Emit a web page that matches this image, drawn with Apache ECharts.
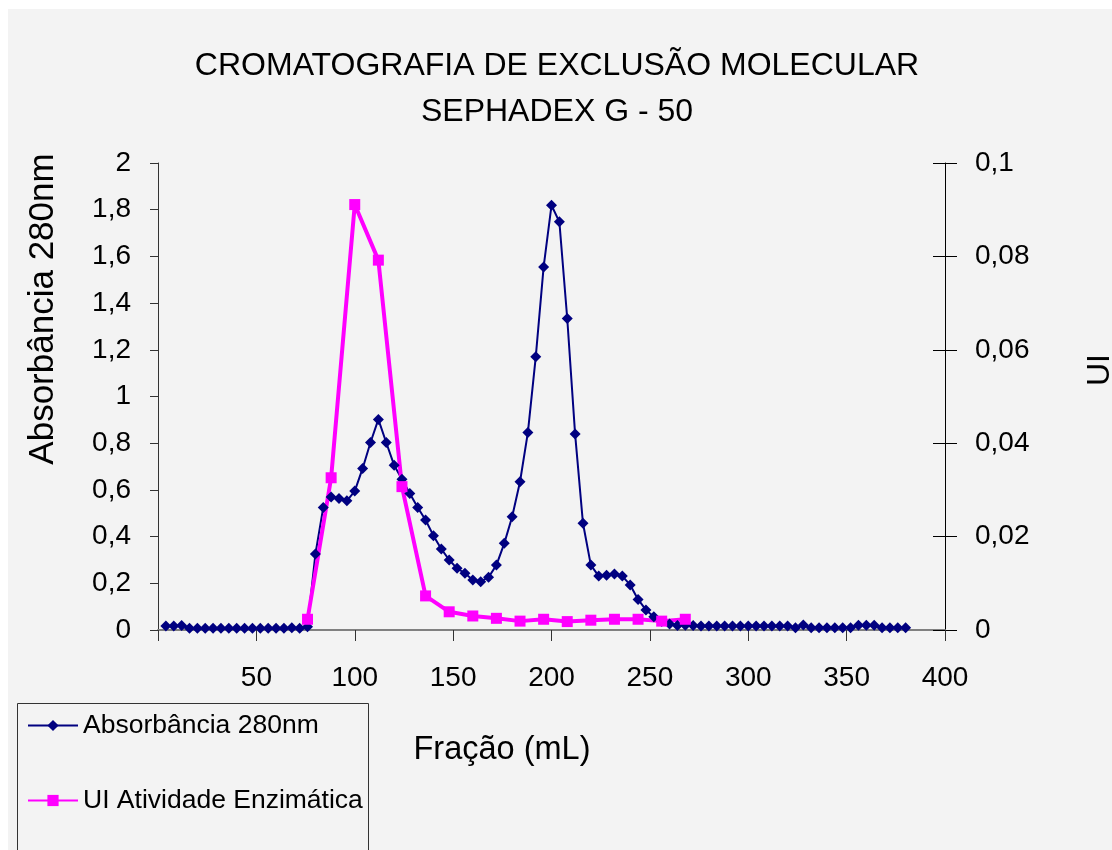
<!DOCTYPE html>
<html>
<head>
<meta charset="utf-8">
<title>Cromatografia de exclusão molecular</title>
<script src="https://cdn.jsdelivr.net/npm/echarts@6/dist/echarts.min.js"></script>
<style>
  html, body { margin: 0; padding: 0; background: #fff; }
  #main { width: 1112px; height: 850px; }
</style>
</head>
<body>
<div id="main"></div>
<script>
// fracoes (mL) e absorbancia a 280nm
var fracaoAbs = [4, 8, 12, 16, 20, 24, 28, 32, 36, 40, 44, 48, 52, 56, 60, 64, 68, 72, 76,
  80, 84, 88, 92, 96, 100, 104, 108, 112, 116, 120, 124, 128, 132, 136, 140, 144, 148, 152,
  156, 160, 164, 168, 172, 176, 180, 184, 188, 192, 196, 200, 204, 208, 212, 216, 220, 224,
  228, 232, 236, 240, 244, 248, 252, 256, 260, 264, 268, 272, 276, 280, 284, 288, 292, 296,
  300, 304, 308, 312, 316, 320, 324, 328, 332, 336, 340, 344, 348, 352, 356, 360, 364, 368,
  372, 376, 380];
var absorbancia = [0.017, 0.017, 0.019, 0.008, 0.008, 0.008, 0.007, 0.008, 0.008, 0.007, 0.008,
  0.008, 0.007, 0.008, 0.008, 0.008, 0.01, 0.008, 0.014,
  0.325, 0.525, 0.57, 0.563, 0.553, 0.595, 0.692, 0.803, 0.902, 0.803, 0.706, 0.646, 0.585,
  0.525, 0.471, 0.404, 0.347, 0.30, 0.264, 0.243, 0.214, 0.207, 0.226, 0.278, 0.371, 0.485,
  0.635, 0.846, 1.17, 1.555, 1.819, 1.748, 1.334, 0.839, 0.457, 0.278, 0.231, 0.235, 0.24,
  0.231, 0.193, 0.131, 0.086, 0.057, 0.036, 0.026, 0.019, 0.02, 0.019,
  0.017, 0.017, 0.017, 0.017, 0.017, 0.017, 0.017, 0.017, 0.017, 0.017, 0.017, 0.017,
  0.01, 0.021, 0.01, 0.01, 0.01, 0.01, 0.01, 0.01, 0.02, 0.02, 0.02, 0.01, 0.01, 0.01, 0.01];

// fracoes (mL) e atividade enzimatica (UI)
var fracaoUI = [76, 88, 100, 112, 124, 136, 148, 160, 172, 184, 196, 208, 220, 232, 244, 256, 268];
var atividadeUI = [0.0023, 0.0326, 0.0911, 0.0792, 0.0307, 0.0073, 0.0039, 0.0030, 0.0025,
  0.0019, 0.0023, 0.0018, 0.0021, 0.0023, 0.0023, 0.0019, 0.0023];

var titulo = ["CROMATOGRAFIA DE EXCLUSÃO MOLECULAR", "SEPHADEX G - 50"];
var nomeSerieAbs = "Absorbância 280nm";
var nomeSerieUI = "UI Atividade Enzimática";

function pares(xs, ys) {
  return xs.map(function (x, i) { return [x, ys[i]]; });
}
function virgula(v) {
  return String(+v.toFixed(3)).replace(".", ",");
}

var fonte = "'Liberation Sans', Arial, sans-serif";
var chart = echarts.init(document.getElementById("main"));

var option = {
  animation: false,
  backgroundColor: "#fff",
  textStyle: { fontFamily: fonte, color: "#000" },
  grid: { left: 158, right: 167, top: 163, bottom: 220 },
  graphic: [
    { type: "rect", z: -10, shape: { x: 8, y: 9, width: 1104, height: 841 }, style: { fill: "#f3f3f3" } },
    // moldura da legenda (passa da borda de baixo, como no original)
    { type: "rect", shape: { x: 17.5, y: 703.5, width: 351, height: 160 }, style: { fill: "none", stroke: "#333", lineWidth: 1 } },
    { type: "text", x: 557, y: 66, style: { text: titulo[0], font: "32px " + fonte, fill: "#000", textAlign: "center", textVerticalAlign: "middle" } },
    { type: "text", x: 557, y: 112, style: { text: titulo[1], font: "32px " + fonte, fill: "#000", textAlign: "center", textVerticalAlign: "middle" } },
    { type: "text", x: 43, y: 309, rotation: Math.PI / 2, style: { text: "Absorbância 280nm", font: "35px " + fonte, fill: "#000", textAlign: "center", textVerticalAlign: "middle" } },
    { type: "text", x: 1100, y: 370, rotation: Math.PI / 2, style: { text: "UI", font: "32px " + fonte, fill: "#000", textAlign: "center", textVerticalAlign: "middle" } },
    { type: "text", x: 502, y: 750, style: { text: "Fração (mL)", font: "32.5px " + fonte, fill: "#000", textAlign: "center", textVerticalAlign: "middle" } }
  ],
  legend: {
    orient: "vertical",
    left: 17,
    top: 702,
    padding: [10, 6, 10, 10],
    itemGap: 48,
    itemWidth: 50,
    itemHeight: 14,
    textStyle: { fontSize: 26.5, color: "#000", fontFamily: fonte },
    lineStyle: { width: 2 },
    data: [nomeSerieAbs, nomeSerieUI]
  },
  xAxis: {
    type: "value",
    min: 0,
    max: 400,
    interval: 50,
    axisLine: { lineStyle: { color: "#808080", width: 2 } },
    axisTick: { length: 11, lineStyle: { color: "#333" } },
    axisLabel: {
      margin: 34,
      fontSize: 28,
      color: "#000",
      formatter: function (v) { return v === 0 ? "" : String(v); }
    },
    splitLine: { show: false }
  },
  yAxis: [
    {
      type: "value",
      min: 0,
      max: 2,
      interval: 0.2,
      position: "left",
      axisLine: { show: true, lineStyle: { color: "#333" } },
      axisTick: { show: true, length: 8, lineStyle: { color: "#333" } },
      axisLabel: { margin: 27, fontSize: 28, color: "#000", formatter: virgula },
      splitLine: { show: false }
    },
    {
      type: "value",
      min: 0,
      max: 0.1,
      interval: 0.02,
      position: "right",
      axisLine: { show: true, lineStyle: { color: "#000" } },
      axisTick: { show: true, length: 12, lineStyle: { color: "#000" } },
      axisLabel: { margin: 30, fontSize: 28, color: "#000", formatter: virgula },
      splitLine: { show: false }
    },
    {
      // so para os tracinhos internos do eixo da direita
      type: "value",
      min: 0,
      max: 0.1,
      interval: 0.02,
      position: "right",
      axisLine: { show: false },
      axisTick: { show: true, inside: true, length: 12, lineStyle: { color: "#000" } },
      axisLabel: { show: false },
      splitLine: { show: false }
    }
  ],
  series: [
    {
      name: nomeSerieAbs,
      type: "line",
      yAxisIndex: 0,
      data: pares(fracaoAbs, absorbancia),
      symbol: "diamond",
      symbolSize: 11,
      color: "#000080",
      lineStyle: { color: "#000080", width: 2 },
      itemStyle: { color: "#000080" }
    },
    {
      name: nomeSerieUI,
      type: "line",
      yAxisIndex: 1,
      data: pares(fracaoUI, atividadeUI),
      symbol: "rect",
      symbolSize: 11,
      color: "#ff00ff",
      lineStyle: { color: "#ff00ff", width: 4 },
      itemStyle: { color: "#ff00ff" }
    }
  ]
};

chart.setOption(option);
</script>
</body>
</html>
